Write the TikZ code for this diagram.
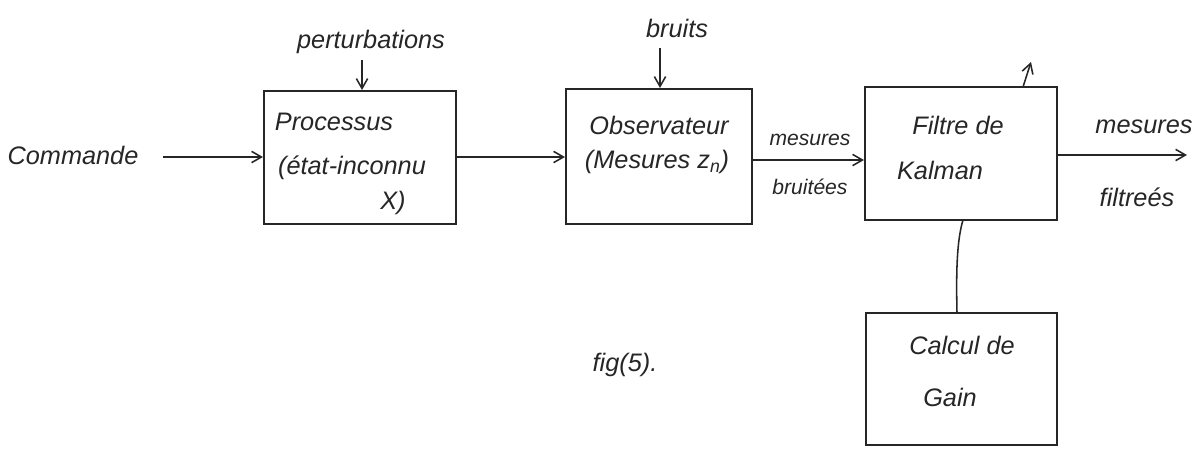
\documentclass[tikz,border=0pt]{standalone}
\usepackage{fontspec}
\setmainfont{Liberation Sans}
\usetikzlibrary{arrows.meta}
\begin{document}
\begin{tikzpicture}[x=0.025cm,y=-0.025cm,
  box/.style={draw=black!85,line width=1.4pt,minimum width=#1},
  lbl/.style={inner sep=1pt,text=black!85,font=\fontsize{18}{20}\selectfont\itshape},
  slbl/.style={inner sep=1pt,text=black!85,font=\fontsize{15}{17}\selectfont\itshape},
  conn/.style={draw=black!85,line width=1.1pt,-{Straight Barb[length=7pt,width=8pt]}},
  plain/.style={draw=black!85,line width=1.1pt}]
\fill[white] (0,0) rectangle (1202,449);
\useasboundingbox (0,0) rectangle (1202,449);
% boxes
\node[box=4.8cm,minimum height=3.325cm] (proc) at (360,157.5) {};
\node[box=4.65cm,minimum height=3.375cm] (obs) at (659,156.5) {};
\node[box=4.8cm,minimum height=3.325cm] (kal) at (961,153.5) {};
\node[box=4.775cm,minimum height=3.3cm] (gain) at (961.5,379) {};
% texts in boxes
\node[lbl] (t1) at (334,122) {Processus};
\node[lbl] (t2) at (352,168) {(état-inconnu};
\node[lbl] (t3) at (393,203) {X)};
\node[lbl] (t4) at (659,125) {Observateur};
\node[lbl] (t5) at (657,162) {(Mesures z\textsubscript{n})};
\node[lbl] (t6) at (958,125) {Filtre de};
\node[lbl] (t7) at (940,170) {Kalman};
\node[lbl] (t8) at (962,345) {Calcul de};
\node[lbl] (t9) at (950,397) {Gain};
% outside labels
\node[lbl] (cmd) at (73,155) {Commande};
\node[lbl] (pert) at (371,42) {perturbations};
\node[lbl] (bru) at (677,28) {bruits};
\node[slbl] (mes1) at (810,140) {mesures};
\node[slbl] (mes2) at (810,187) {bruitées};
\node[lbl] (out1) at (1144,127) {mesures};
\node[lbl] (out2) at (1137,197) {filtreés};
\node[lbl] (fig) at (625,365) {fig(5).};
% connectors
\coordinate (cmdend) at (163,157);
\draw[conn] (cmdend) -- (proc.west |- cmdend);
\coordinate (pA) at (362,60);
\draw[conn] (pA) -- (proc.north -| pA);
\coordinate (bA) at (660,48);
\draw[conn] (bA) -- (obs.north -| bA);
\coordinate (po) at (456,157);
\draw[conn] (proc.east |- po) -- (obs.west |- po);
\coordinate (ok) at (752,160);
\draw[conn] (obs.east |- ok) -- (kal.west |- ok);
\coordinate (outend) at (1187,155);
\draw[conn] (kal.east |- outend) -- (outend);
\coordinate (kt0) at (1023,87);
\coordinate (kt1) at (1031,62);
\draw[conn] (kt0) -- (kt1);
\coordinate (gk) at (957,313);
\coordinate (kb) at (963,220);
\draw[plain] (gk) .. controls (956,270) and (957,240) .. (kb);
\end{tikzpicture}
\end{document}
